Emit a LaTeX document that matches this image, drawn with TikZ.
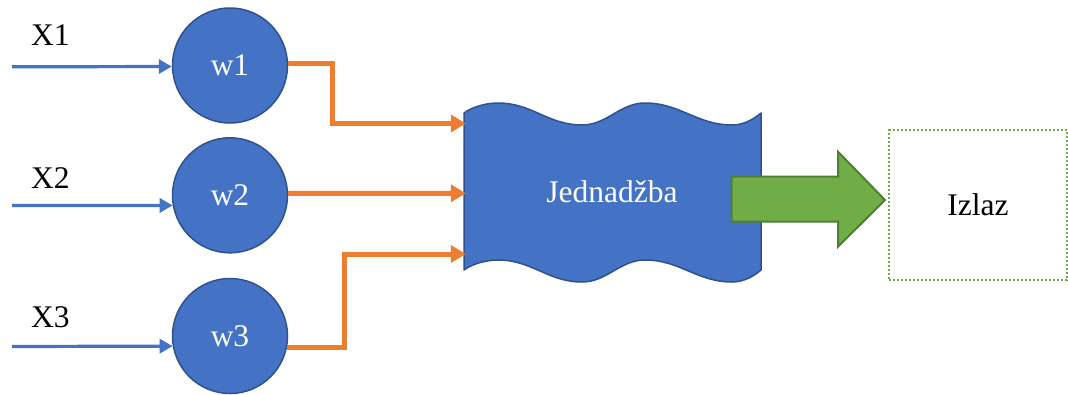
\documentclass[tikz,border=0pt]{standalone}
\usepackage{fontspec}
\setmainfont{Liberation Serif}
\usetikzlibrary{arrows.meta}
\definecolor{blu}{HTML}{4472C4}
\definecolor{bludark}{HTML}{2F528F}
\definecolor{orng}{HTML}{ED7D31}
\definecolor{grn}{HTML}{70AD47}
\definecolor{grndark}{HTML}{507E32}
\tikzset{
  txt/.style={font=\fontsize{31.5}{38}\selectfont, inner sep=0pt},
  weight/.style={circle, fill=blu, draw=bludark, line width=1.5pt, minimum size=115pt,
    inner sep=0pt, text=white, font=\fontsize{31.5}{38}\selectfont},
  inarrow/.style={draw=blu, line width=3.2pt, -{Triangle[length=13pt,width=14pt]}},
  orarrow/.style={draw=orng, line width=5pt, -{Triangle[length=15pt,width=17pt]}},
  wavebox/.style={fill=blu, draw=bludark, line width=1.5pt, line join=round},
  bigarrow/.style={fill=grn, draw=grndark, line width=2pt, line join=miter},
  outbox/.style={draw=grn, line width=2pt, dash pattern=on 2pt off 2pt,
    minimum width=177.7pt, minimum height=150pt, inner sep=0pt,
    font=\fontsize{31.5}{38}\selectfont}
}
\begin{document}
\begin{tikzpicture}[x=1pt,y=-1pt]
\useasboundingbox[fill=white] (0,0) rectangle (1068,394);

% wave shape (Jednadzba)
\path[wavebox] (464,113)
  .. controls (472,107) and (486,103) .. (498,103)
  .. controls (532,103) and (548,125) .. (582,125)
  .. controls (607,125) and (620,103) .. (645,103)
  .. controls (680,103) and (697,125) .. (732,125)
  .. controls (744,125) and (754,119) .. (761,113)
  -- (761,270)
  .. controls (754,276) and (744,282) .. (732,282)
  .. controls (697,282) and (680,260) .. (645,260)
  .. controls (620,260) and (607,282) .. (582,282)
  .. controls (548,282) and (532,260) .. (498,260)
  .. controls (486,260) and (472,264) .. (464,270)
  -- cycle;
\node[txt, text=white, minimum width=292pt, minimum height=157pt] (jed) at (612,192) {Jednadžba};

% weight circles
\node[weight] (w1) at (230,65.5) {w1};
\node[weight] (w2) at (230,195.3) {w2};
\node[weight] (w3) at (230,336) {w3};

% input labels
\node[txt, anchor=base west] (x1) at (31,45.5) {X1};
\node[txt, anchor=base west] (x2) at (31,188.5) {X2};
\node[txt, anchor=base west] (x3) at (31,327) {X3};

% input arrows
\coordinate (s1) at (12,66.8);
\coordinate (s2) at (12,205.5);
\coordinate (s3) at (12,346.5);
\draw[inarrow] (s1) -- (w1.181);
\draw[inarrow] (s2) -- (w2.190);
\draw[inarrow] (s3) -- (w3.190.5);

% orange connectors
\coordinate (y1) at (0,123.5);
\coordinate (y2) at (0,193.3);
\coordinate (y3) at (0,254);
\draw[orarrow] (w1.2.5) -- ++(44,0) |- (jed.west |- y1);
\draw[orarrow] (w2.2) -- (jed.west |- y2);
\draw[orarrow] (w3.-11) -- ++(57,0) |- (jed.west |- y3);

% output box
\node[outbox] (out) at (978,205) {Izlaz};

% big green arrow
\path[bigarrow] (731.7,176.7) -- (838,176.7) -- (838,151.7) -- (885,200)
  -- (838,246.7) -- (838,221.7) -- (731.7,221.7) -- cycle;
\end{tikzpicture}
\end{document}
